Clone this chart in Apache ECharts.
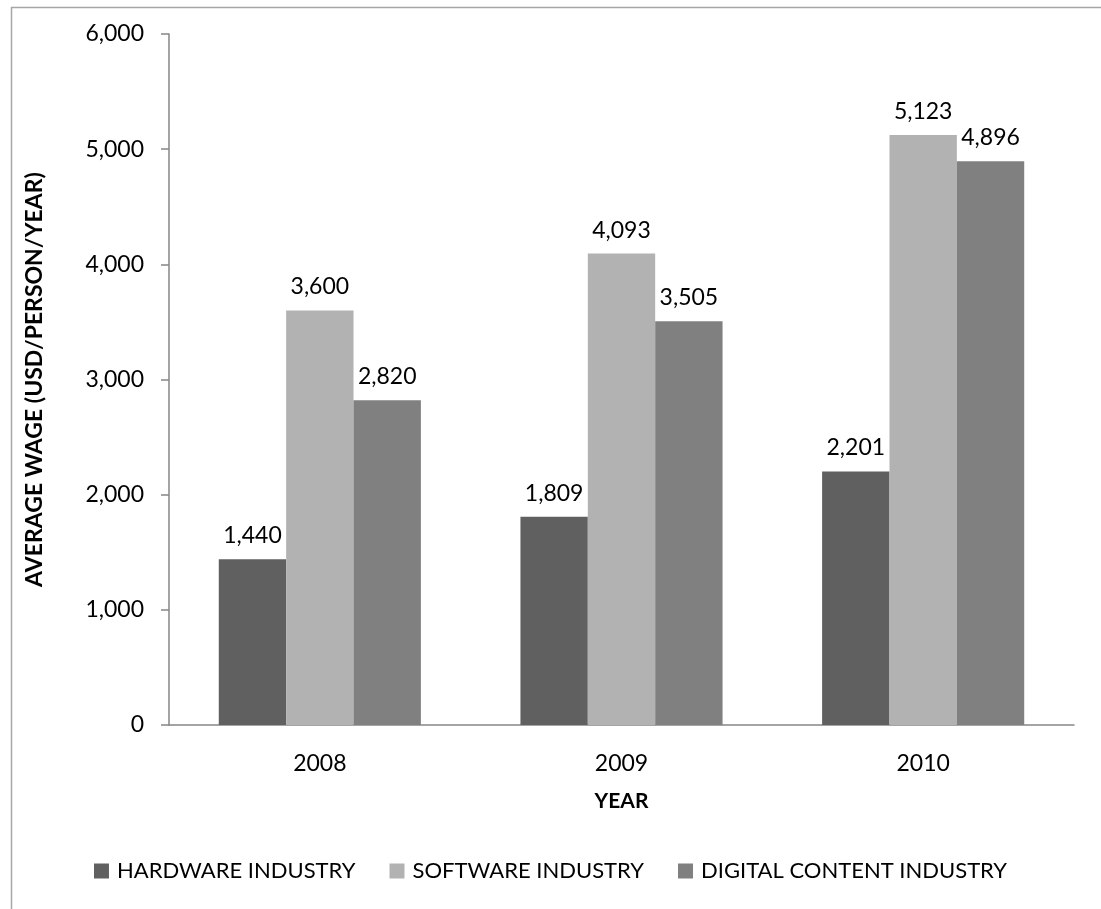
<!DOCTYPE html>
<html>
<head>
<meta charset="utf-8">
<script src="https://cdn.jsdelivr.net/npm/echarts@6/dist/echarts.min.js"></script>
<style>
  html, body { margin: 0; padding: 0; background: #fff; }
  #chart { width: 1101px; height: 909px; }
</style>
</head>
<body>
<div id="chart"></div>
<script>
// Average wage by industry, 2008–2010
const years = ['2008', '2009', '2010'];
const hardware = [1440, 1809, 2201];
const software = [3600, 4093, 5123];
const digitalContent = [2820, 3505, 4896];
const seriesNames = ['HARDWARE INDUSTRY', 'SOFTWARE INDUSTRY', 'DIGITAL CONTENT INDUSTRY'];
const seriesColors = ['#606060', '#b2b2b2', '#808080'];

const FONT = 'Lato';
const fmt = v => v.toLocaleString('en-US');

const chart = echarts.init(document.getElementById('chart'), null, { renderer: 'canvas' });

function barSeries(name, data, color) {
  return {
    name: name,
    type: 'bar',
    data: data,
    barGap: '0%',
    barCategoryGap: '33%',
    itemStyle: { color: color },
    label: {
      show: true,
      position: 'top',
      distance: 12,
      color: '#000',
      fontFamily: FONT,
      fontSize: 23,
      formatter: p => fmt(p.value)
    },
    emphasis: { disabled: true }
  };
}

chart.setOption({
  animation: false,
  backgroundColor: '#fff',
  textStyle: { fontFamily: FONT },
  graphic: [{
    type: 'rect',
    left: 9,
    top: 5,
    shape: { width: 1300, height: 1100 },
    style: { fill: 'none', stroke: '#a6a6a6', lineWidth: 1.5 },
    silent: true,
    z: -1
  }],
  grid: { left: 169, right: 27, top: 34, bottom: 184, containLabel: false },
  legend: {
    bottom: 22,
    left: 'center',
    itemWidth: 15,
    itemHeight: 15,
    itemGap: 34,
    icon: 'rect',
    textStyle: { fontFamily: FONT, fontSize: 22, color: '#000', padding: [0, 0, 0, 3] },
    data: seriesNames
  },
  xAxis: {
    type: 'category',
    data: years,
    name: 'YEAR',
    nameLocation: 'middle',
    nameGap: 66,
    nameTextStyle: { fontFamily: FONT, fontSize: 21, fontWeight: 'bold', color: '#000' },
    axisLine: { lineStyle: { color: '#868686', width: 1.5 } },
    axisTick: { show: false },
    axisLabel: { margin: 27, fontFamily: FONT, fontSize: 23, color: '#000' },
    splitLine: { show: false }
  },
  yAxis: {
    type: 'value',
    min: 0,
    max: 6000,
    interval: 1000,
    name: 'AVERAGE WAGE (USD/PERSON/YEAR)',
    nameLocation: 'middle',
    nameGap: 123,
    nameTextStyle: { fontFamily: FONT, fontSize: 23, fontWeight: 'bold', color: '#000' },
    axisLine: { show: true, lineStyle: { color: '#868686', width: 1.5 } },
    axisTick: { show: true, length: 8, lineStyle: { color: '#868686', width: 1.5 } },
    axisLabel: { margin: 25, fontFamily: FONT, fontSize: 23, color: '#000', formatter: v => fmt(v) },
    splitLine: { show: false }
  },
  series: [
    barSeries(seriesNames[0], hardware, seriesColors[0]),
    barSeries(seriesNames[1], software, seriesColors[1]),
    barSeries(seriesNames[2], digitalContent, seriesColors[2])
  ]
});
</script>
</body>
</html>
